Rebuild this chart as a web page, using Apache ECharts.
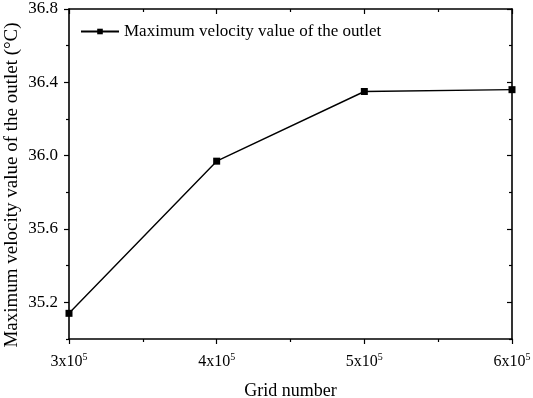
<!DOCTYPE html>
<html>
<head>
<meta charset="utf-8">
<script src="https://cdn.jsdelivr.net/npm/echarts@6/dist/echarts.min.js"></script>
<style>
	html, body { margin: 0; padding: 0; background: #fff; }
	#chart { width: 533px; height: 398px; }
</style>
</head>
<body>
<div id="chart"></div>
<script>
	const gridNumbers = [300000, 400000, 500000, 600000]
	const maxVelocity = [35.14, 35.97, 36.35, 36.36]
	const seriesName = 'Maximum velocity value of the outlet'
	const yMajor = [35.2, 35.6, 36.0, 36.4, 36.8]
	const yMinor = [35.0, 35.4, 35.8, 36.2, 36.6]

	const font = 'Liberation Serif'
	const data = gridNumbers.map((g, i) => [g, maxVelocity[i]])

	const lineCfg = { show: true, onZero: false, lineStyle: { color: '#000', width: 1.6 } }
	const tickStyle = { color: '#000', width: 1.2 }

	// bottom/left ticks point out, top/right ticks point in
	const xBase = (inside) => ({
		type: 'value',
		min: 300000,
		max: 600000,
		interval: 100000,
		axisLine: lineCfg,
		axisTick: { show: true, inside: inside, length: 5, lineStyle: tickStyle },
		minorTick: { show: true, splitNumber: 2, length: 3, lineStyle: tickStyle },
		splitLine: { show: false },
	})

	const yBase = (inside) => ({
		type: 'value',
		min: 35.0,
		max: 36.8,
		axisLine: lineCfg,
		axisTick: { show: true, inside: inside, length: 5, customValues: yMajor, lineStyle: tickStyle },
		splitLine: { show: false },
	})

	// extra axis just for the shorter in-between ticks
	const yMinorAxis = (pos, inside) => ({
		type: 'value',
		position: pos,
		min: 35.0,
		max: 36.8,
		axisLine: { show: false, onZero: false },
		axisTick: { show: true, inside: inside, length: 3, customValues: yMinor, lineStyle: tickStyle },
		axisLabel: { show: false },
		splitLine: { show: false },
	})

	let option = {
		animation: false,
		textStyle: { fontFamily: font },
		grid: { left: 69, right: 21, top: 9, bottom: 59, containLabel: false, outerBoundsMode: 'none' },
		legend: {
			left: 75,
			top: 18,
			itemWidth: 38,
			itemHeight: 7,
			itemGap: 5,
			textStyle: { fontFamily: font, fontSize: 17, color: '#000' },
			data: [seriesName]
		},
		xAxis: [{
			...xBase(false),
			name: 'Grid number',
			nameLocation: 'middle',
			nameGap: 43,
			nameMoveOverlap: false,
			nameTextStyle: { fontFamily: font, fontSize: 18, color: '#000' },
			axisLabel: {
				margin: 13,
				formatter: v => '{a|' + (v / 100000) + 'x10}{b|5}',
				rich: {
					a: { fontFamily: font, fontSize: 16, color: '#000' },
					b: { fontFamily: font, fontSize: 10, color: '#000', padding: [0, 0, 10, 0] }
				}
			},
		}, {
			...xBase(true),
			position: 'top',
			axisLabel: { show: false },
		}],
		yAxis: [{
			...yBase(false),
			name: 'Maximum velocity value of the outlet (°C)',
			nameLocation: 'middle',
			nameGap: 47,
			nameMoveOverlap: false,
			nameTextStyle: { fontFamily: font, fontSize: 19, color: '#000', padding: [0, 22, 0, 0] },
			axisLabel: {
				margin: 11,
				fontFamily: font,
				fontSize: 17,
				color: '#000',
				customValues: yMajor,
				formatter: v => v.toFixed(1)
			},
		}, {
			...yBase(true),
			position: 'right',
			axisLabel: { show: false },
		}, yMinorAxis('left', false), yMinorAxis('right', true)],
		series: [{
			name: seriesName,
			type: 'line',
			data: data,
			symbol: 'rect',
			symbolSize: 7,
			lineStyle: { color: '#000', width: 1.4 },
			itemStyle: { color: '#000' },
		}]
	}

	const dom = echarts.init(document.getElementById('chart'))
	dom.setOption(option)
</script>
</body>
</html>
